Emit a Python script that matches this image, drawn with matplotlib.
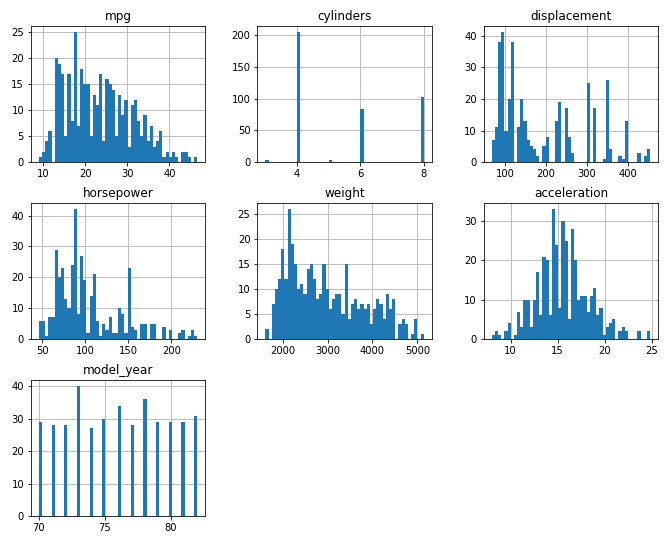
import numpy as np
import matplotlib
matplotlib.use("Agg")
import matplotlib.pyplot as plt

# auto-mpg columns, histogram with 50 bins each (counts)
mpg_range = (9.0, 46.6)
mpg_counts = [1, 2, 4, 6, 0, 20, 19, 17, 5, 17, 8, 25, 7, 18, 15, 15, 5, 13, 11, 17,
              4, 16, 15, 14, 5, 13, 9, 12, 3, 11, 12, 8, 5, 9, 4, 7, 3, 4, 6, 1,
              2, 1, 2, 1, 0, 2, 2, 1, 0, 1]

cyl_values = [3, 4, 5, 6, 8]
cyl_counts = [4, 204, 3, 84, 103]

disp_range = (68.0, 455.0)
disp_counts = [7, 11, 38, 41, 10, 20, 38, 0, 11, 20, 13, 7, 5, 4, 2, 0, 5, 8, 0, 0,
               13, 19, 0, 17, 8, 3, 0, 0, 0, 0, 25, 0, 17, 0, 0, 1, 26, 4, 0, 0,
               2, 1, 13, 0, 0, 0, 3, 0, 2, 4]

hp_range = (46.0, 230.0)
hp_counts = [6, 6, 1, 7, 7, 29, 20, 23, 13, 10, 24, 42, 8, 27, 19, 2, 14, 21, 6, 1,
             5, 3, 7, 2, 2, 10, 8, 2, 23, 4, 3, 0, 5, 5, 0, 5, 5, 0, 0, 4,
             0, 3, 0, 0, 2, 3, 0, 1, 3, 1]

weight_range = (1613.0, 5140.0)
weight_counts = [2, 0, 7, 10, 12, 18, 12, 26, 19, 15, 10, 11, 9, 14, 15, 12, 8, 9, 15, 10,
                 6, 8, 9, 9, 5, 15, 4, 7, 8, 6, 7, 6, 7, 3, 6, 8, 7, 4, 9, 6,
                 8, 0, 3, 4, 3, 0, 1, 4, 0, 1]

acc_range = (8.0, 24.8)
acc_counts = [1, 2, 1, 0, 2, 4, 0, 1, 7, 3, 10, 10, 3, 10, 17, 6, 21, 20, 6, 33,
              24, 8, 30, 25, 5, 28, 20, 10, 11, 11, 7, 11, 13, 6, 8, 1, 3, 4, 5, 0,
              2, 3, 2, 0, 0, 0, 2, 0, 0, 2]

year_values = [70, 71, 72, 73, 74, 75, 76, 77, 78, 79, 80, 81, 82]
year_counts = [29, 28, 28, 40, 27, 30, 34, 28, 36, 29, 29, 29, 31]


def binned_hist(ax, rng, counts):
    edges = np.linspace(rng[0], rng[1], len(counts) + 1)
    centers = (edges[:-1] + edges[1:]) / 2
    ax.hist(centers, bins=edges, weights=counts)


fig, axes = plt.subplots(3, 3, figsize=(667 / 72, 542 / 72), dpi=72)
fig.subplots_adjust(left=0.0465, right=0.9865, bottom=0.048, top=0.952,
                    wspace=0.3, hspace=0.3)
axes = axes.ravel()

binned_hist(axes[0], mpg_range, mpg_counts)
axes[0].set_title("mpg")

axes[1].hist(cyl_values, bins=50, weights=cyl_counts)
axes[1].set_title("cylinders")

binned_hist(axes[2], disp_range, disp_counts)
axes[2].set_title("displacement")

binned_hist(axes[3], hp_range, hp_counts)
axes[3].set_title("horsepower")

binned_hist(axes[4], weight_range, weight_counts)
axes[4].set_title("weight")

binned_hist(axes[5], acc_range, acc_counts)
axes[5].set_title("acceleration")

axes[6].hist(year_values, bins=50, weights=year_counts)
axes[6].set_title("model_year")

for ax in axes[:7]:
    ax.grid(True)
    ax.set_axisbelow(True)
for ax in axes[7:]:
    ax.set_visible(False)

fig.savefig("out.png", dpi=72)
